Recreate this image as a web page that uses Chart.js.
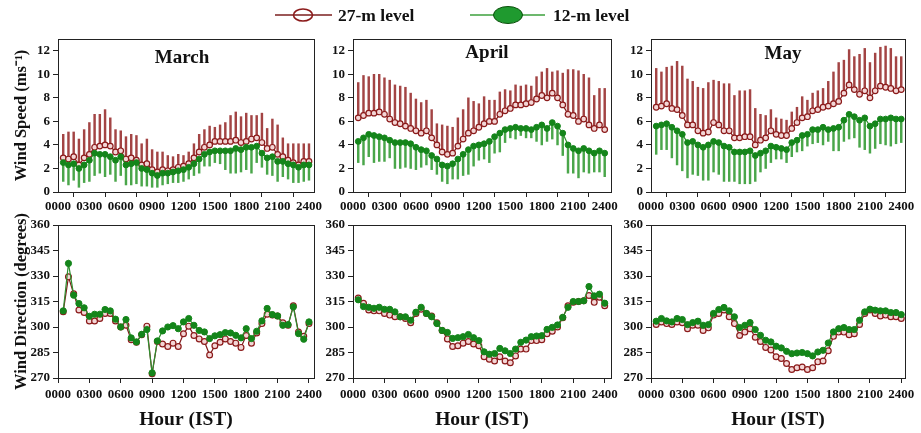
<!DOCTYPE html>
<html><head><meta charset="utf-8">
<script src="https://cdn.jsdelivr.net/npm/chart.js@4.4.1/dist/chart.umd.min.js"></script>
<style>
html,body{margin:0;padding:0;background:#fff;width:921px;height:433px;overflow:hidden;position:relative}
canvas{position:absolute}
svg{position:absolute;left:0;top:0;pointer-events:none}
</style></head><body>
<canvas id="wsMar"></canvas><canvas id="wsApr"></canvas><canvas id="wsMay"></canvas>
<canvas id="wdMar"></canvas><canvas id="wdApr"></canvas><canvas id="wdMay"></canvas>
<svg width="921" height="433" font-family="Liberation Serif, Times New Roman, serif" font-weight="bold">
  <line x1="275" y1="15" x2="332" y2="15" stroke="#7b1f1f" stroke-width="1.5"/>
  <ellipse cx="303" cy="15" rx="9.5" ry="6" fill="none" stroke="#8b1a1a" stroke-width="1.6"/>
  <text x="338" y="21" font-size="17.5" fill="#111">27-m level</text>
  <line x1="470" y1="15" x2="545" y2="15" stroke="#3da03d" stroke-width="1.5"/>
  <ellipse cx="508" cy="15" rx="14.5" ry="8.5" fill="#1f9a2f" stroke="#0b4f0b" stroke-width="1"/>
  <text x="553" y="21" font-size="17.5" fill="#111">12-m level</text>
  <text x="182" y="63" font-size="19" text-anchor="middle" fill="#111">March</text>
  <text x="487" y="58" font-size="19" text-anchor="middle" fill="#111">April</text>
  <text x="783" y="59" font-size="19" text-anchor="middle" fill="#111">May</text>
</svg>
<script>
// ---------- data ----------
const hours = [0.5,1,1.5,2,2.5,3,3.5,4,4.5,5,5.5,6,6.5,7,7.5,8,8.5,9,9.5,10,10.5,11,11.5,12,
               12.5,13,13.5,14,14.5,15,15.5,16,16.5,17,17.5,18,18.5,19,19.5,20,20.5,21,21.5,22,22.5,23,23.5,24];
const hourTicks = [0,3,6,9,12,15,18,21,24];
const hourTickLabels = ['0000','0300','0600','0900','1200','1500','1800','2100','2400'];
const speedTicks = [0,2,4,6,8,10,12];
const dirTicks = [270,285,300,315,330,345,360];

// Wind speed (m/s) – mean and error-bar ends
const marchWs27   = [2.9,2.8,3.0,2.3,2.9,3.2,3.8,3.9,4.0,3.9,3.4,3.5,2.8,2.9,2.7,2.3,2.4,1.9,1.7,1.9,1.8,1.9,2.1,2.2,2.4,2.9,3.4,3.8,4.0,4.3,4.3,4.3,4.3,4.4,4.2,4.3,4.5,4.6,4.2,3.7,3.8,3.2,3.0,2.7,2.5,2.3,2.6,2.6];
const marchWs27Up = [4.9,5.1,5.1,4.5,5.3,5.9,6.6,6.6,7.0,6.3,5.3,5.2,4.7,4.9,4.8,4.1,4.5,3.6,3.4,3.4,3.1,3.0,3.2,3.1,3.4,4.1,4.9,5.3,5.6,5.5,5.7,5.9,6.5,6.8,6.4,6.7,6.5,6.5,6.7,5.4,6.2,5.7,4.6,4.1,4.1,4.1,4.1,4.1];
const marchWs12   = [2.5,2.3,2.4,2.0,2.3,2.7,3.3,3.2,3.2,3.0,2.7,3.0,2.3,2.4,2.5,2.0,1.9,1.6,1.4,1.6,1.6,1.7,1.8,1.9,2.1,2.4,2.8,3.2,3.4,3.5,3.5,3.5,3.5,3.7,3.6,3.8,3.8,3.9,3.3,2.9,3.0,2.6,2.6,2.4,2.3,2.1,2.3,2.3];
const marchWs12Lo = [0.9,0.6,1.0,0.4,0.8,0.9,1.4,1.6,1.3,1.5,0.9,1.4,0.6,0.6,0.7,0.5,0.5,0.4,0.4,0.6,0.7,0.8,0.8,0.9,1.1,1.4,1.6,2.2,2.2,2.5,2.4,1.9,1.6,1.6,1.7,1.9,1.6,2.5,2.1,1.5,1.4,0.9,1.3,1.1,0.8,0.8,0.9,1.0];

const aprilWs27   = [6.3,6.5,6.7,6.7,6.8,6.6,6.2,5.9,5.8,5.6,5.4,5.2,5.0,5.2,4.6,4.0,3.4,3.2,3.3,3.9,4.5,5.0,5.2,5.5,5.8,6.0,6.0,6.6,6.9,7.1,7.4,7.4,7.5,7.6,7.9,8.2,8.0,8.4,8.0,7.4,6.6,6.5,6.0,6.2,5.7,5.4,5.7,5.3];
const aprilWs27Up = [9.3,9.9,9.8,10.0,10.0,9.7,9.5,9.1,9.0,8.9,8.4,7.9,7.6,7.8,7.0,5.8,5.7,5.6,5.5,6.3,7.0,8.0,7.7,7.5,8.1,7.8,7.8,8.5,8.7,8.6,9.1,9.0,9.1,9.0,9.8,10.2,10.5,10.2,10.3,10.1,10.4,10.4,10.3,10.0,9.7,8.2,8.8,8.8];
const aprilWs12   = [4.3,4.6,4.9,4.8,4.7,4.6,4.4,4.2,4.2,4.2,4.1,3.8,3.6,3.5,3.1,2.8,2.3,2.2,2.4,2.8,3.2,3.6,3.9,4.0,4.1,4.3,4.7,5.0,5.3,5.4,5.5,5.4,5.4,5.3,5.5,5.7,5.4,5.9,5.6,5.0,4.0,3.7,3.5,3.7,3.5,3.3,3.5,3.3];
const aprilWs12Lo = [2.5,2.3,3.0,2.5,2.6,2.6,2.9,2.0,2.0,2.1,2.0,1.9,2.1,2.3,1.9,1.5,0.9,0.7,1.1,1.1,1.4,1.5,2.2,2.7,2.8,2.5,3.3,3.4,4.2,4.6,4.5,4.8,4.6,4.6,4.3,4.0,4.3,4.5,4.0,3.1,1.6,1.6,1.2,1.7,1.6,1.7,1.7,1.3];

const mayWs27     = [7.2,7.3,7.5,7.1,7.0,6.5,5.7,5.7,5.2,5.0,5.1,5.9,5.7,5.2,5.2,4.6,4.6,4.7,4.7,4.0,4.4,4.6,5.2,4.9,4.8,4.8,5.4,5.9,6.3,6.4,6.9,7.0,7.2,7.3,7.5,7.7,8.4,9.1,8.7,8.3,8.6,8.0,8.6,9.0,8.9,8.8,8.6,8.7];
const mayWs27Up   = [10.5,10.2,10.6,10.7,11.1,10.7,9.6,9.4,8.9,8.8,9.3,9.5,9.4,9.2,9.2,8.2,8.6,8.6,8.7,7.1,6.6,6.5,7.0,6.3,6.2,6.1,6.8,7.2,8.1,7.8,8.4,8.6,8.8,9.4,10.2,11.0,11.2,12.1,11.5,11.7,12.2,11.0,11.8,12.3,12.4,12.2,11.5,11.5];
const mayWs12     = [5.6,5.7,5.8,5.5,5.2,4.9,4.2,4.3,4.0,3.8,4.0,4.3,4.2,3.9,3.8,3.4,3.4,3.4,3.5,3.1,3.3,3.5,3.9,3.8,3.7,3.6,4.2,4.4,4.8,4.9,5.3,5.3,5.5,5.3,5.4,5.5,6.1,6.6,6.4,6.1,6.3,5.6,5.8,6.2,6.2,6.3,6.2,6.2];
const mayWs12Lo   = [3.2,3.6,3.6,2.9,2.3,1.8,1.2,1.5,1.4,1.0,1.0,1.7,1.5,0.9,0.9,0.9,0.7,0.7,0.7,0.9,1.7,2.0,2.5,2.8,2.8,2.5,3.0,3.4,3.5,3.9,4.1,4.2,4.0,4.3,3.5,3.5,4.3,4.5,4.6,3.8,3.6,3.3,3.7,4.1,4.0,3.9,4.1,4.2];

// Wind direction (degrees)
const marchWd27 = [309,329.5,319.5,310,308.5,303.5,303.5,305,308,308,303.5,300,301,292.5,291,295.5,300.5,272.5,291.5,290,288.5,290.5,288.5,296,300.5,295,293,291.5,283.5,289,291,293,291.5,290.5,288,295,290.5,296.5,302,307.5,307,306.5,302.5,301,312.5,297,294.5,302];
const marchWd12 = [309.5,337.4,318.7,313.8,311.3,306.3,307.5,307.5,310.3,309.5,304.6,300,304.4,293.6,291.2,295.7,298.5,273,291.8,297.7,300,300.8,299,303,305,301,298,297.1,293.2,294.8,295.5,296.7,296.5,295.1,293.6,299,293.2,297.5,303.6,310.9,307.3,306.5,301,301.4,311.8,296.1,292.8,303];
const aprilWd27 = [317,314,310,309.5,309.5,308,307,306,306,305,302.5,308,310.5,308,306.5,302.5,298,293,288.5,289,290.5,291.5,290,289,282.5,281,280,282.5,280,279,283,287,287,292,292,292.5,296,297.5,300,305.5,312.5,314.5,315,315.5,318.5,314.5,317.5,312.5];
const aprilWd12 = [316,312,311.6,311,311.6,310.4,310.4,308.9,306,306,304,308.7,311.6,308,306,302,298,296.8,293.3,293.7,294.3,295.6,293.7,292,285.4,284,284.4,287.4,286,284.4,287,291,292.3,294.3,294.7,294.9,298.6,299.8,301.2,305.7,311.6,315,315,315.4,323.8,318.3,319.3,314];
const mayWd27   = [301.5,303,302,301.5,303,302.5,299,301,301,298,299.5,307,308,310,306,302,295,297,299,294,291.5,288,286.5,282.5,281.5,278.5,275,276,276.5,275,276,279.5,280,286,294.5,297,297,295.5,296,301.5,308,310,308,306.5,307,306,306,305];
const mayWd12   = [303.4,305,303.6,303,305,304.4,301.4,302.6,303.4,301,301.4,308,310.3,311.5,309.5,306,299.7,301,302.6,298.5,295.1,292.2,291.2,288.7,287.7,285.7,284.3,284.7,285,284.3,283,285.3,286.3,290.6,297.1,299,299.7,298.5,298.5,304,308.9,310.5,309.9,309.5,309.5,308.5,308.5,307.3];

// ---------- styling ----------
const RED_LINE = '#7f1a1a', RED_PT = '#8b1a1a', RED_FILL = '#f3d6d6', RED_BAR = '#a34444';
const GRN_LINE = '#2f8f2f', GRN_PT = '#14851a', GRN_BAR = '#4aa64a';
const FONT = 'Liberation Serif, Times New Roman, serif';
Chart.defaults.font.family = FONT;
Chart.defaults.color = '#111';

const pts = v => hours.map((h, i) => ({x: h, y: v[i]}));
const rng = (a, b) => hours.map((h, i) => ({x: h, y: [a[i], b[i]]}));

const boxPlugin = {
  id: 'box',
  afterDraw(chart) {
    const a = chart.chartArea, ctx = chart.ctx;
    ctx.save(); ctx.strokeStyle = '#222'; ctx.lineWidth = 1;
    ctx.strokeRect(Math.round(a.left) + 0.5, Math.round(a.top) + 0.5,
                   Math.round(a.right - a.left), Math.round(a.bottom - a.top));
    ctx.restore();
  }
};

function lineDs(vals, isRed, r) {
  return {
    type: 'line', data: pts(vals), order: isRed ? 1 : 0,
    borderColor: isRed ? RED_LINE : GRN_LINE, borderWidth: 1.2, tension: 0,
    pointRadius: r, pointBorderWidth: isRed ? 1.2 : 1,
    pointBackgroundColor: isRed ? RED_FILL : GRN_PT,
    pointBorderColor: isRed ? RED_PT : GRN_PT
  };
}
function barDs(lo, hi, color) {
  return {type: 'bar', data: rng(lo, hi), order: 3, backgroundColor: color,
          borderWidth: 0, barThickness: 1.8, grouped: false};
}

function makePanel(id, f, datasets, yTicks, yMin, yMax, yTitle, xTitle) {
  const cv = document.getElementById(id);
  cv.width = f.w; cv.height = f.h;
  cv.style.left = f.left + 'px'; cv.style.top = f.top + 'px';
  new Chart(cv, {
    type: 'line',
    data: {datasets},
    options: {
      responsive: false, animation: false, devicePixelRatio: 1,
      layout: {padding: {top: 15, right: f.padR, bottom: 0, left: 0}},
      plugins: {legend: {display: false}, tooltip: {enabled: false}},
      scales: {
        x: {
          type: 'linear', min: 0, max: f.xmax, offset: false,
          afterBuildTicks: s => { s.ticks = hourTicks.map(v => ({value: v})); },
          afterFit: s => { s.height = f.xH; },
          ticks: {autoSkip: false, maxRotation: 0, padding: f.xPad, color: '#111',
                  font: {family: FONT, size: 13, weight: 'bold'},
                  callback: v => hourTickLabels[hourTicks.indexOf(v)]},
          grid: {drawOnChartArea: false, drawTicks: true, tickLength: 5, color: '#222'},
          border: {display: true, color: '#222'},
          title: xTitle ? {display: true, text: xTitle, color: '#111',
                  font: {family: FONT, size: 19.5, weight: 'bold'}, padding: {top: 0, bottom: 1}} : {display: false}
        },
        y: {
          type: 'linear', min: yMin, max: yMax,
          afterBuildTicks: s => { s.ticks = yTicks.map(v => ({value: v})); },
          afterFit: s => { s.width = f.yW; },
          ticks: {padding: 3, color: '#111', font: {family: FONT, size: 13, weight: 'bold'}},
          grid: {drawOnChartArea: false, drawTicks: true, tickLength: 5, color: '#222'},
          border: {display: true, color: '#222'},
          title: yTitle ? {display: true, text: yTitle, color: '#111',
                  font: {family: FONT, size: 16.5, weight: 'bold'}, padding: {top: 12, bottom: 0}} : {display: false}
        }
      }
    },
    plugins: [boxPlugin]
  });
}

// frames
const topRow = {top: 24, h: 199, xH: 31, xPad: 2};
const botRow = {top: 210, h: 223, xH: 55, xPad: 4};
const cols = [
  {left: 0,   w: 334, yW: 58, padR: 20, xmax: 24.48},
  {left: 313, w: 318, yW: 40, padR: 20, xmax: 24.6},
  {left: 611, w: 310, yW: 40, padR: 16, xmax: 24.36}
];
const F = (c, r) => Object.assign({}, c, r);

const speed = [
  [marchWs27, marchWs27Up, marchWs12, marchWs12Lo],
  [aprilWs27, aprilWs27Up, aprilWs12, aprilWs12Lo],
  [mayWs27, mayWs27Up, mayWs12, mayWs12Lo]
];
const dir = [[marchWd27, marchWd12], [aprilWd27, aprilWd12], [mayWd27, mayWd12]];
const wsIds = ['wsMar', 'wsApr', 'wsMay'], wdIds = ['wdMar', 'wdApr', 'wdMay'];

for (let i = 0; i < 3; i++) {
  const [r, rUp, g, gLo] = speed[i];
  makePanel(wsIds[i], F(cols[i], topRow), [
    barDs(r, rUp, RED_BAR), barDs(gLo, g, GRN_BAR),
    lineDs(r, true, 2.8), lineDs(g, false, 2.9)
  ], speedTicks, 0, 13, i === 0 ? 'Wind Speed (ms⁻¹)' : null, null);
  makePanel(wdIds[i], F(cols[i], botRow), [
    lineDs(dir[i][0], true, 2.9), lineDs(dir[i][1], false, 3.1)
  ], dirTicks, 270, 360, i === 0 ? 'Wind Direction (degrees)' : null, 'Hour (IST)');
}
</script>
</body></html>
